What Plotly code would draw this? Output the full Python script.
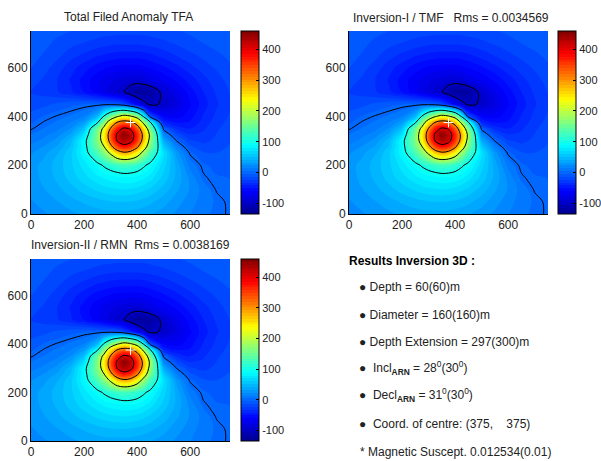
import plotly.graph_objects as go

GRID_X = [0, 50, 100, 150, 200, 250, 275, 300, 325, 350, 375, 400, 425, 450, 500, 550, 600, 650, 700, 750]
GRID_Y = [0, 50, 100, 150, 200, 250, 275, 300, 325, 350, 375, 400, 450, 500, 550, 600, 650, 700, 750]
ANOMALY = [
    [18, 22, 26, 30, 34, 37, 38, 38, 38, 38, 38, 37, 35, 33, 28, 21, 14, 7, 2, -1],
    [22, 27, 32, 38, 43, 47, 49, 50, 51, 51, 50, 49, 47, 44, 36, 27, 18, 9, 3, -2],
    [26, 32, 39, 47, 55, 62, 65, 67, 68, 69, 68, 66, 62, 58, 47, 34, 22, 10, -1, -4],
    [28, 35, 44, 55, 66, 76, 81, 84, 86, 88, 88, 86, 81, 74, 57, 39, 20, 1.5, -4, -5],
    [28, 36, 46, 58, 74, 92, 103, 112, 120, 125, 122, 115, 104, 92, 64, 38, 10, -3, -8, -7],
    [22, 30, 41, 58, 86, 130, 165, 210, 264, 288, 276, 236, 178, 128, 72, 28, -2, -13, -14, -11],
    [16, 24, 34, 52, 87, 150, 197, 280, 346, 379, 361, 311, 232, 158, 58, 14, -12, -20, -18, -13],
    [10, 17, 27, 47, 88, 160, 232, 325, 403, 432, 417, 359, 272, 175, 40, -1, -22, -26, -21, -16],
    [5, 11, 19, 35, 72, 160, 240, 336, 410, 455, 428, 370, 280, 185, 18, -18, -32, -31, -23, -17],
    [-1, 5, 11, 23, 52, 150, 216, 304, 375, 409, 396, 336, 252, 155, -5, -35, -42, -34, -25, -18],
    [-6, 1, 6, 14, 30, 95, 165, 244, 304, 329, 318, 272, 185, 105, -40, -52, -50, -38, -28, -20],
    [-10, -4, 1, 6, 14, 45, 105, 155, 195, 222, 208, 175, 93, -15, -62, -65, -55, -41, -30, -22],
    [-20, -17, -12, -8, -5, -5, -5, -6, -10, -20, -40, -65, -90, -106, -96, -80, -62, -46, -34, -25],
    [-24, -27, -32, -40, -52, -66, -75, -84, -92, -99, -115, -127, -127, -122, -91, -72, -56, -42, -31, -23],
    [-19, -25, -33, -43, -55, -67, -72, -77, -81, -84, -87, -88, -84, -76, -68, -58, -47, -36, -27, -20],
    [-14, -20, -28, -38, -47, -56, -59, -62, -64, -65, -65, -65, -63, -60, -53, -45, -36, -28, -22, -16],
    [-11, -15, -21, -29, -35, -41, -43, -45, -46, -47, -47, -47, -46, -44, -38, -32, -26, -21, -16, -12],
    [-9, -12, -16, -20, -24, -27, -29, -30, -31, -31, -31, -31, -30, -29, -26, -22, -18, -14, -11, -9],
    [-8, -9, -12, -14, -16, -18, -19, -19, -20, -20, -20, -20, -20, -19, -17, -15, -12, -10, -8, -7],
]
AXIS_TICKS = [0, 200, 400, 600]
BAR_TICKS = [-100, 0, 100, 200, 300, 400]
BAR_LABELS = ["-100", "0", "100", "200", "300", "400"]
CENTRE_X = [375]
CENTRE_Y = [375]
TITLES = [
    "Total Filed Anomaly TFA",
    "Inversion-I / TMF   Rms = 0.0034569",
    "Inversion-II / RMN  Rms = 0.0038169",
]
RESULT_LINES = [
    "\u25cf Depth = 60(60)m",
    "\u25cf Diameter = 160(160)m",
    "\u25cf Depth Extension = 297(300)m",
    "\u25cf  Incl<b><sub>ARN</sub></b> = 28<sup>0</sup>(30<sup>0</sup>)",
    "\u25cf  Decl<b><sub>ARN</sub></b> = 31<sup>0</sup>(30<sup>0</sup>)",
    "\u25cf  Coord. of centre: (375,\u00a0\u00a0\u00a0\u00a0375)",
    "* Magnetic Suscept. 0.012534(0.01)",
]

W, H = 601, 461
JET = [[0, "rgb(0,0,143)"], [0.125, "rgb(0,0,255)"], [0.375, "rgb(0,255,255)"],
       [0.625, "rgb(255,255,0)"], [0.875, "rgb(255,0,0)"], [1, "rgb(128,0,0)"]]
ZMIN, ZMAX = -135, 460
FONT = "Liberation Sans, Arial, sans-serif"
INK = "#222222"

# panel boxes in pixels: left, right, top, bottom, colourbar left
PANELS = [(31, 230, 31, 214, 241), (349, 548, 31, 214, 558), (31, 230, 259, 441, 241)]
TITLE_POS = [(128, 17), (451, 18), (130, 245)]

fig = go.Figure()
layout = dict(
    width=W, height=H, margin=dict(l=0, r=0, t=0, b=0, pad=0, autoexpand=False), autosize=False,
    paper_bgcolor="white", plot_bgcolor="white", showlegend=False,
    font=dict(family=FONT, size=12, color=INK),
    annotations=[],
)
for i, (l, r, t, b, cb) in enumerate(PANELS):
    s = "" if i == 0 else str(i + 1)
    fig.add_trace(go.Contour(
        x=GRID_X, y=GRID_Y, z=ANOMALY, xaxis="x" + s, yaxis="y" + s,
        colorscale=JET, zmin=ZMIN, zmax=ZMAX, autocontour=False,
        contours=dict(start=ZMIN, end=ZMAX, size=(ZMAX - ZMIN) / 64, coloring="fill", showlines=False),
        line=dict(width=0, smoothing=1.0), hoverinfo="skip",
        colorbar=dict(
            x=cb / W, xanchor="left", xpad=0, ypad=0, thickness=18, thicknessmode="pixels",
            lenmode="fraction", len=(b - t) / H, y=1 - (t + b) / 2 / H, yanchor="middle",
            outlinecolor="black", outlinewidth=1, tickvals=BAR_TICKS, ticktext=BAR_LABELS,
            ticks="inside", ticklen=3,
            tickcolor="black", tickfont=dict(family=FONT, size=11, color=INK),
        ),
    ))
    fig.add_trace(go.Contour(
        x=GRID_X, y=GRID_Y, z=ANOMALY, xaxis="x" + s, yaxis="y" + s,
        autocontour=False, showscale=False,
        contours=dict(start=BAR_TICKS[0], end=BAR_TICKS[-1], size=100, coloring="none"),
        line=dict(color="black", width=1, smoothing=1.0), hoverinfo="skip",
    ))
    fig.add_trace(go.Scatter(
        x=CENTRE_X, y=CENTRE_Y, xaxis="x" + s, yaxis="y" + s, mode="markers",
        marker=dict(symbol="cross-thin", size=7, line=dict(color="white", width=1)), hoverinfo="skip",
    ))
    axis = dict(range=[0, 750], tickvals=AXIS_TICKS, showgrid=False, zeroline=False, showline=True,
                linecolor="black", linewidth=1, ticks="", tickfont=dict(family=FONT, size=12, color=INK))
    layout["xaxis" + s] = dict(axis, domain=[l / W, r / W], anchor="y" + s)
    layout["yaxis" + s] = dict(axis, domain=[1 - b / H, 1 - t / H], anchor="x" + s)
    tx, ty = TITLE_POS[i]
    layout["annotations"].append(dict(
        text=TITLES[i], x=tx / W, y=1 - ty / H, xref="paper", yref="paper", showarrow=False,
        xanchor="center", yanchor="middle", font=dict(family=FONT, size=12, color=INK)))

layout["annotations"].append(dict(
    text="<b>Results Inversion 3D :</b>", x=347 / W, y=1 - 261 / H, xref="paper", yref="paper",
    showarrow=False, xanchor="left", yanchor="middle", font=dict(family=FONT, size=12, color="black")))
LINE_Y = [287, 315, 342, 368, 395, 424, 452]
LINE_X = [357, 357, 357, 357, 357, 357, 358]
for txt, px, py in zip(RESULT_LINES, LINE_X, LINE_Y):
    layout["annotations"].append(dict(
        text=txt, x=px / W, y=1 - py / H, xref="paper", yref="paper", showarrow=False,
        xanchor="left", yanchor="middle", font=dict(family=FONT, size=12, color=INK)))

fig.update_layout(**layout)
fig.write_html("out.html", config={"displayModeBar": False},
               post_script="document.body.style.margin='0';document.body.style.overflow='hidden';")
